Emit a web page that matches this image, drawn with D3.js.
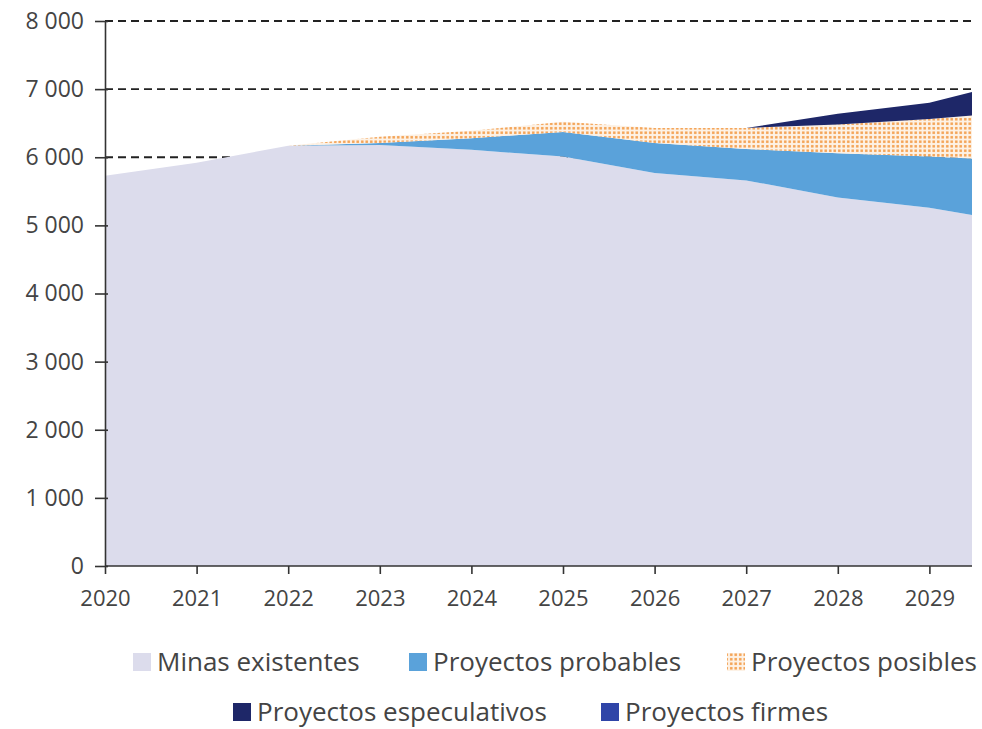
<!DOCTYPE html>
<html><head><meta charset="utf-8">
<script src="https://cdn.jsdelivr.net/npm/d3@7"></script>
<style>body{margin:0;background:#fff}svg{display:block}</style>
</head><body>
<svg id="c" width="982" height="729"></svg>
<script>
const years = [2020,2021,2022,2023,2024,2025,2026,2027,2028,2029,2030];
const minas = [5730,5920,6170,6180,6110,6010,5770,5660,5410,5260,5030];
const probables = [0,0,0,30,170,360,440,460,650,750,920];
const posibles = [0,0,0,90,110,150,220,310,420,550,720];
const especulativos = [0,0,0,0,0,0,0,0,160,240,470];
const firmes = [0,0,0,0,0,0,0,0,0,0,0];
const yTicks = [0,1000,2000,3000,4000,5000,6000,7000,8000];
const xTicks = [2020,2021,2022,2023,2024,2025,2026,2027,2028,2029];
const seriesNames = ["Minas existentes","Proyectos probables","Proyectos posibles","Proyectos especulativos","Proyectos firmes"];

(function(){
const svg = d3.select("#c");
const mLeft = 105, mRight = 972, mTop = 21, mBottom = 566;
const x = d3.scaleLinear().domain([2020,2030]).range([mLeft, mLeft + 10*91.6]);
const y = d3.scaleLinear().domain([0,8000]).range([mBottom, mTop]);

const defs = svg.append("defs");
const pat = defs.append("pattern").attr("id","dots").attr("patternUnits","userSpaceOnUse")
  .attr("width",4.5).attr("height",4.5);
pat.append("rect").attr("width",4.5).attr("height",4.5).attr("fill","#fdf2e6");
pat.append("rect").attr("x",1).attr("y",1).attr("width",2.5).attr("height",2.5).attr("fill","#f3a050");
defs.append("clipPath").attr("id","clip").append("rect")
  .attr("x",mLeft).attr("y",0).attr("width",mRight-mLeft).attr("height",mBottom);

const colors = ["#dcdcec","#5aa2da","url(#dots)","#1e2768","#2f45a8"];
const font = "'Open Sans', sans-serif";

svg.append("g").selectAll("line").data(yTicks.filter(d=>d>0)).join("line")
  .attr("x1",mLeft).attr("x2",mRight).attr("y1",d=>y(d)).attr("y2",d=>y(d))
  .attr("stroke","#222").attr("stroke-width",1.8).attr("stroke-dasharray","8,5");

const rows = years.map((yr,i)=>({year:yr, a:minas[i], b:probables[i], c:posibles[i], d:especulativos[i], e:firmes[i]}));
const stack = d3.stack().keys(["a","b","c","d","e"])(rows);
const area = d3.area().x(d=>x(d.data.year)).y0(d=>y(d[0])).y1(d=>y(d[1]));
svg.append("g").attr("clip-path","url(#clip)").selectAll("path").data(stack).join("path")
  .attr("d",area).attr("fill",(d,i)=>colors[i]);

const yAxis = svg.append("g").attr("transform",`translate(${mLeft},0)`)
  .call(d3.axisLeft(y).tickValues(yTicks).tickSize(10).tickSizeOuter(0)
    .tickFormat(d=>d3.format(",")(d).replace(","," ")));
yAxis.select(".domain").attr("stroke","#333").attr("stroke-width",1.6);
yAxis.selectAll(".tick line").attr("stroke","#333").attr("stroke-width",1.6).attr("x2",-10).attr("x1",3);
yAxis.selectAll(".tick text").attr("x",-21).attr("font-size",23).attr("font-family",font).attr("fill","#444");

const xAxis = svg.append("g").attr("transform",`translate(0,${mBottom})`)
  .call(d3.axisBottom(x).tickValues(xTicks).tickSize(8).tickSizeOuter(0).tickFormat(d3.format("d")));
xAxis.select(".domain").attr("d",`M${mLeft},0H${mRight}`).attr("stroke","#333").attr("stroke-width",1.6);
xAxis.selectAll(".tick line").attr("stroke","#333").attr("stroke-width",1.6);
xAxis.selectAll(".tick text").attr("y",24).attr("dy","0.71em").attr("font-size",22).attr("font-family",font).attr("fill","#444");

const legendItems = [
  {i:0, x:133, y:662},{i:1, x:409, y:662},{i:2, x:727, y:662},
  {i:3, x:233, y:712},{i:4, x:601, y:712}
];
const lg = svg.append("g");
legendItems.forEach(it=>{
  lg.append("rect").attr("x",it.x).attr("y",it.y-9).attr("width",18).attr("height",18).attr("fill",colors[it.i]);
  lg.append("text").attr("x",it.x+24).attr("y",it.y).attr("dy","0.35em")
    .attr("font-size",26).attr("font-family",font).attr("fill","#444").text(seriesNames[it.i]);
});
})();
</script>
</body></html>
